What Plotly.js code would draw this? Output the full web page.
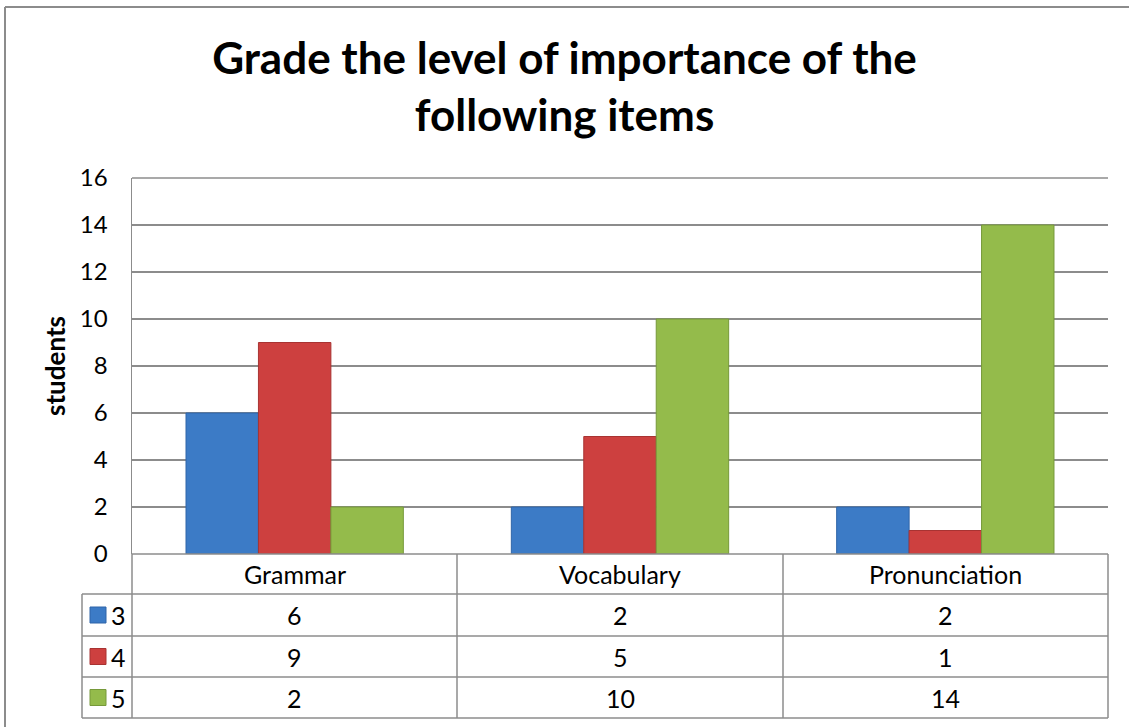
<!DOCTYPE html>
<html>
<head>
<meta charset="utf-8">
<script src="https://cdn.plot.ly/plotly-3.0.1.min.js"></script>
<style>html,body{margin:0;padding:0;background:#fff;}#chart{width:1129px;height:727px;}</style>
</head>
<body>
<div id="chart"></div>
<script>
const categories = ["Grammar", "Vocabulary", "Pronunciation"];
const seriesNames = ["3", "4", "5"];
const values3 = [6, 2, 2];
const values4 = [9, 5, 1];
const values5 = [2, 10, 14];
const yTicks = [0, 2, 4, 6, 8, 10, 12, 14, 16];
const titleText = "Grade the level of importance of the<br>following items";
const yTitle = "students";

const seriesValues = [values3, values4, values5];
const fills = ["#3C7BC6", "#CD403F", "#94BB4B"];
const edges = ["#2F65A8", "#A83332", "#76993A"];

const W = 1129, H = 727;
const L = 132, R = 1108, T = 178, B = 554;
const px = x => (x - L) / (R - L);
const py = y => (B - y) / (B - T);

const FONT = "Lato, 'Open Sans', sans-serif";
const lineCol = "#8C8C8C";

const traces = seriesNames.map((n, i) => ({
  type: "bar",
  name: n,
  x: categories,
  y: seriesValues[i],
  marker: {color: fills[i], line: {color: edges[i], width: 1}},
  hoverinfo: "x+y+name"
}));

const shapes = [];
const annotations = [];
function hline(y, x0, x1, w) {
  shapes.push({type: "line", xref: "paper", yref: "paper", x0: px(x0), x1: px(x1), y0: py(y), y1: py(y), line: {color: lineCol, width: w || 1.5}});
}
function vline(x, y0, y1, w) {
  shapes.push({type: "line", xref: "paper", yref: "paper", x0: px(x), x1: px(x), y0: py(y0), y1: py(y1), line: {color: lineCol, width: w || 1.5}});
}
// outer chart border (only top and left visible)
hline(7, 5, 1129, 2);
vline(5, 7, 727, 2);
// top gridline of plot area
hline(178, 132, 1108);

// data table
const rowY = [554, 594, 636, 677, 718];
const colX = [132, 457, 783, 1108];
hline(554, 132, 1108);
for (let r = 1; r < rowY.length; r++) hline(rowY[r], 82, 1108);
vline(82, 594, 718);
vline(132, 554, 718);
colX.slice(1).forEach(x => vline(x, 554, 718));

const TS = 25;
// header labels
categories.forEach((c, j) => {
  annotations.push({xref: "paper", yref: "paper", x: px((colX[j] + colX[j + 1]) / 2), y: py((rowY[0] + rowY[1]) / 2),
    text: c, showarrow: false, xanchor: "center", yanchor: "middle", font: {family: FONT, size: TS, color: "#000"}});
});
// rows
seriesNames.forEach((n, i) => {
  const cy = (rowY[i + 1] + rowY[i + 2]) / 2;
  shapes.push({type: "rect", xref: "paper", yref: "paper", x0: px(90), x1: px(106), y0: py(cy - 8), y1: py(cy + 8),
    fillcolor: fills[i], line: {color: edges[i], width: 1}});
  annotations.push({xref: "paper", yref: "paper", x: px(109), y: py(cy), text: n, showarrow: false,
    xanchor: "left", yanchor: "middle", font: {family: FONT, size: TS, color: "#000"}});
  seriesValues[i].forEach((v, j) => {
    annotations.push({xref: "paper", yref: "paper", x: px((colX[j] + colX[j + 1]) / 2), y: py(cy),
      text: String(v), showarrow: false, xanchor: "center", yanchor: "middle", font: {family: FONT, size: TS, color: "#000"}});
  });
});
// y axis title
annotations.push({xref: "paper", yref: "paper", x: px(55), y: 0.5, text: "<b>" + yTitle + "</b>", textangle: -90,
  showarrow: false, xanchor: "center", yanchor: "middle", font: {family: FONT, size: 26, color: "#000"}});

const layout = {
  width: W, height: H,
  margin: {l: L, r: W - R, t: T, b: H - B, pad: 0},
  paper_bgcolor: "#fff", plot_bgcolor: "#fff",
  showlegend: false,
  barmode: "group", bargap: 0.332, bargroupgap: 0,
  title: {text: "<b>" + titleText + "</b>", x: 0.5, xanchor: "center", xref: "container",
    y: 1 - 74 / H, yref: "container", yanchor: "middle", font: {family: FONT, size: 44, color: "#000"}},
  xaxis: {showticklabels: false, showgrid: false, zeroline: false, showline: false, ticks: "", fixedrange: true},
  yaxis: {range: [0, 16], tickvals: yTicks, ticktext: yTicks.map(String), showgrid: true, gridcolor: lineCol, gridwidth: 1.5,
    zeroline: false, showline: true, linecolor: lineCol, linewidth: 1.5, ticks: "", ticklabelstandoff: 18,
    tickfont: {family: FONT, size: 24, color: "#000"}, fixedrange: true},
  shapes: shapes,
  annotations: annotations
};

Plotly.newPlot("chart", traces, layout, {displayModeBar: false, staticPlot: true});
</script>
</body>
</html>
